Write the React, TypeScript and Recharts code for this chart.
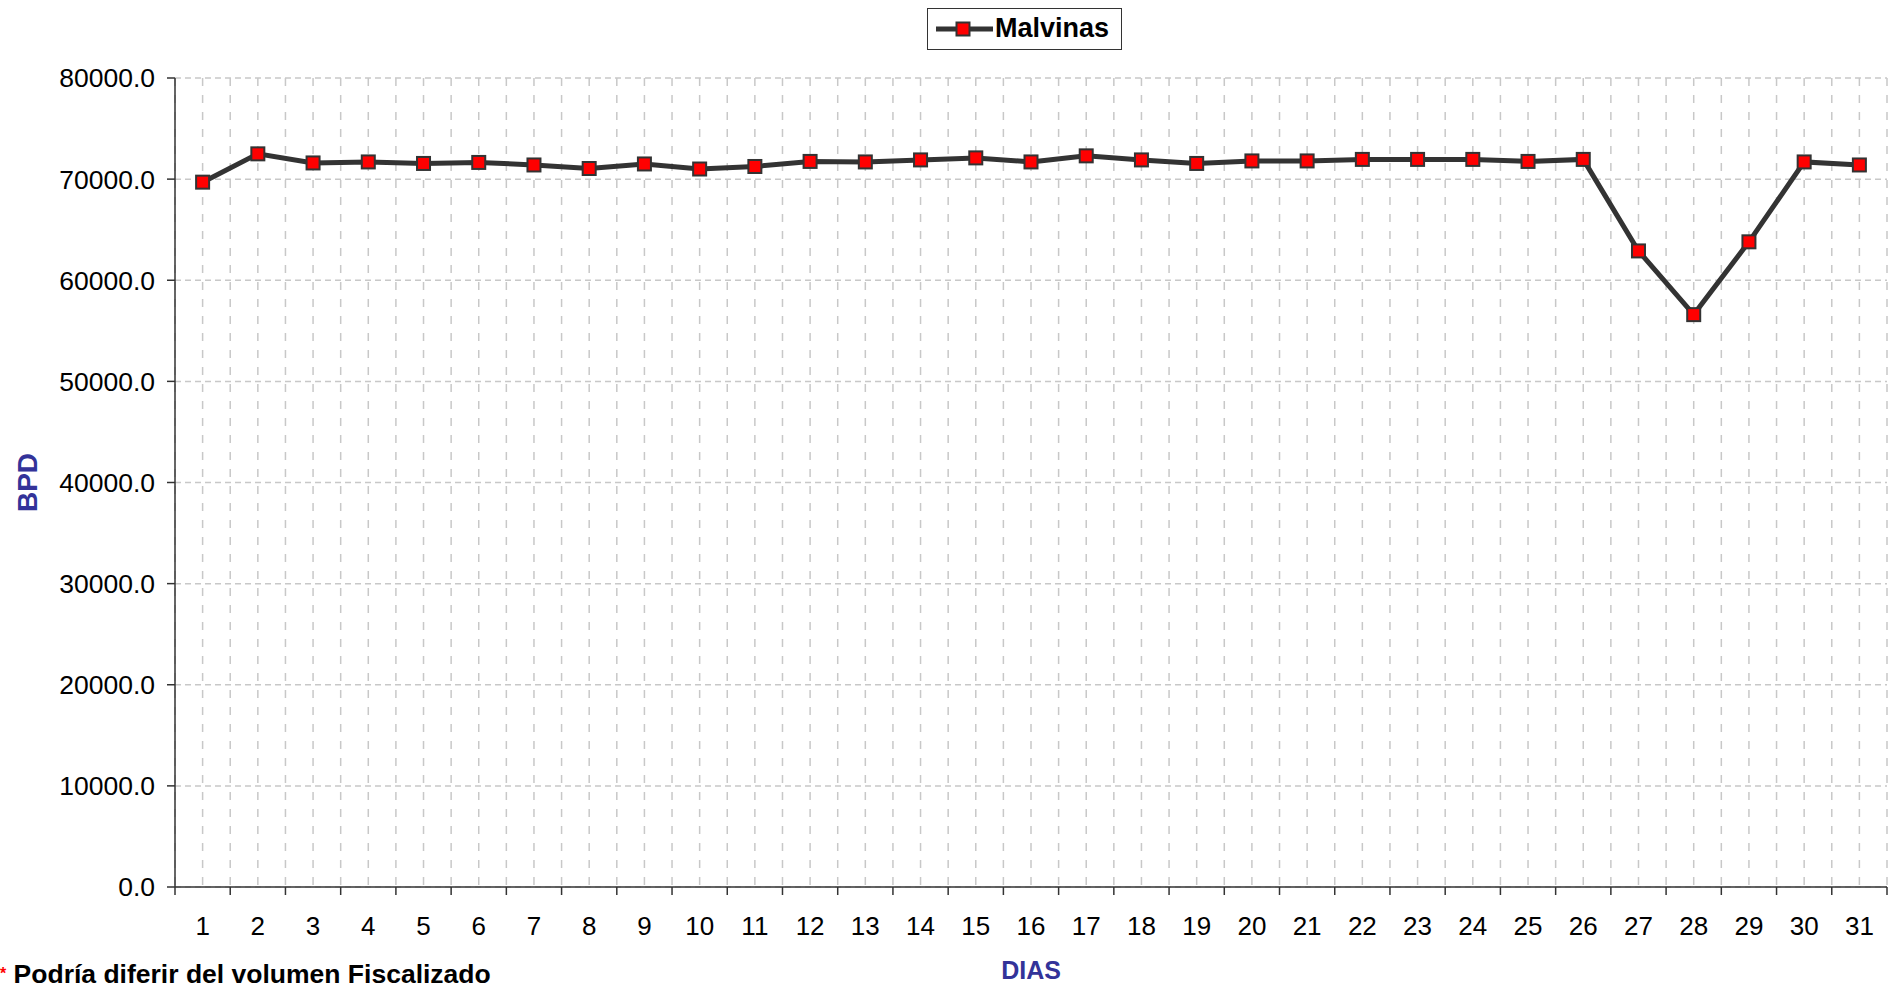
import React from "react";
import {
  LineChart,
  Line,
  XAxis,
  YAxis,
  CartesianGrid,
  Label,
} from "recharts";

// days of the month (categories)
const days = [
  1, 2, 3, 4, 5, 6, 7, 8, 9, 10, 11, 12, 13, 14, 15, 16, 17, 18, 19, 20, 21,
  22, 23, 24, 25, 26, 27, 28, 29, 30, 31,
];

// Malvinas BPD per day
const malvinas = [
  69700, 72500, 71600, 71700, 71550, 71650, 71400, 71050, 71500, 71000, 71250,
  71750, 71700, 71900, 72100, 71700, 72300, 71900, 71550, 71800, 71800, 71950,
  71950, 71950, 71750, 71950, 62900, 56600, 63800, 71700, 71400,
];

const yTicks = [0, 10000, 20000, 30000, 40000, 50000, 60000, 70000, 80000];

const seriesName = "Malvinas";

const chartData = days.map((d, i) => ({ day: d, value: malvinas[i] }));

// ticks at every day and every boundary between days
const xTicks = days.flatMap((d) => [d - 0.5, d]).concat(days[days.length - 1] + 0.5);

const FONT = "'Liberation Sans', Arial, sans-serif";
const BLUE = "#333399";
const DARK = "#333333";

const DayTick = (props: any) => {
  const { x, y, payload } = props;
  const v = payload.value;
  if (!Number.isInteger(v)) {
    return <line x1={x} x2={x} y1={y} y2={y + 8} stroke={DARK} strokeWidth={1.5} />;
  }
  return (
    <text x={x} y={y + 48} textAnchor="middle" fontSize={26} fill="#000">
      {v}
    </text>
  );
};

const SquareDot = (props: any) => {
  const { cx, cy, index } = props;
  if (cx == null || cy == null) return null;
  return (
    <rect
      key={`dot-${index}`}
      x={cx - 6.5}
      y={cy - 6.5}
      width={13}
      height={13}
      fill="#ff0000"
      stroke={DARK}
      strokeWidth={2}
    />
  );
};

const App = () => {
  return (
    <div
      style={{
        position: "absolute",
        left: 0,
        top: 0,
        width: 1899,
        height: 988,
        overflow: "hidden",
        background: "#fff",
        fontFamily: FONT,
      }}
    >
      <LineChart
        width={1899}
        height={988}
        data={chartData}
        margin={{ top: 78, right: 12, bottom: 0, left: 0 }}
      >
        {/* horizontal grid */}
        <CartesianGrid
          vertical={false}
          stroke="#c8c8c8"
          strokeDasharray="6 4"
          strokeWidth={1.5}
        />
        {/* vertical grid at day centres and boundaries */}
        <CartesianGrid
          horizontal={false}
          stroke="#c8c8c8"
          strokeDasharray="8 9"
          strokeWidth={1.5}
        />
        <XAxis
          dataKey="day"
          type="number"
          domain={[0.5, 31.5]}
          ticks={xTicks}
          interval={0}
          height={101}
          tickSize={0}
          tickMargin={0}
          tickLine={false}
          tick={<DayTick />}
          axisLine={{ stroke: DARK, strokeWidth: 1.5 }}
        >
          <Label
            content={(p: any) => {
              const vb = p.viewBox;
              return (
                <text
                  x={vb.x + vb.width / 2}
                  y={vb.y + 92}
                  textAnchor="middle"
                  fontSize={25}
                  fontWeight="bold"
                  fill={BLUE}
                >
                  DIAS
                </text>
              );
            }}
          />
        </XAxis>
        <YAxis
          domain={[0, 80000]}
          ticks={yTicks}
          width={175}
          tickSize={8}
          tickMargin={12}
          tickFormatter={(v) => Number(v).toFixed(1)}
          tick={{ fontSize: 26.5, fill: "#000" }}
          tickLine={{ stroke: DARK, strokeWidth: 1.5 }}
          axisLine={{ stroke: DARK, strokeWidth: 1.5 }}
        >
          <Label
            content={(p: any) => {
              const vb = p.viewBox;
              const cx = 27;
              const cy = vb.y + vb.height / 2;
              return (
                <text
                  x={cx}
                  y={cy}
                  transform={`rotate(-90 ${cx} ${cy})`}
                  textAnchor="middle"
                  dominantBaseline="central"
                  fontSize={28}
                  fontWeight="bold"
                  fill={BLUE}
                >
                  BPD
                </text>
              );
            }}
          />
        </YAxis>
        <Line
          type="linear"
          dataKey="value"
          name={seriesName}
          stroke={DARK}
          strokeWidth={5}
          dot={<SquareDot />}
          activeDot={false}
          isAnimationActive={false}
        />
      </LineChart>

      {/* legend */}
      <div
        style={{
          position: "absolute",
          left: 927,
          top: 8,
          width: 195,
          height: 42,
          boxSizing: "border-box",
          border: `1.5px solid ${DARK}`,
          background: "#fff",
        }}
      >
        <svg
          width={60}
          height={20}
          style={{ position: "absolute", left: 6, top: 10 }}
        >
          <line x1={2} x2={59} y1={10} y2={10} stroke={DARK} strokeWidth={5} />
          <rect x={22.5} y={3.5} width={13} height={13} fill="#ff0000" stroke={DARK} strokeWidth={2} />
        </svg>
        <span
          style={{
            position: "absolute",
            left: 67,
            top: 6,
            fontSize: 27,
            lineHeight: "27px",
            fontWeight: "bold",
            color: "#000",
            whiteSpace: "nowrap",
          }}
        >
          {seriesName}
        </span>
      </div>

      {/* footnote */}
      <div
        style={{
          position: "absolute",
          left: 0,
          top: 961,
          fontSize: 26.5,
          lineHeight: "26px",
          fontWeight: "bold",
          color: "#000",
          whiteSpace: "nowrap",
        }}
      >
        <span style={{ color: "#ff0000", fontSize: 16, verticalAlign: "top" }}>*</span>{" "}
        Podría diferir del volumen Fiscalizado
      </div>
    </div>
  );
};

export default App;
